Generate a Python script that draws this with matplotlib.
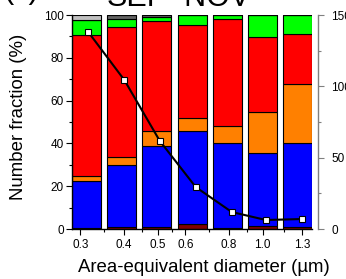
import matplotlib
matplotlib.use("Agg")
import matplotlib.pyplot as plt
import numpy as np

plt.rcParams["font.family"] = ["Liberation Sans", "DejaVu Sans"]

# bin centres of the bars and of the number line (um)
bar_diam = [0.312, 0.393, 0.497, 0.630, 0.792, 1.00, 1.261]
line_diam = [0.316, 0.401, 0.507, 0.643, 0.816, 1.023, 1.30]

# stacked number fractions (%), bottom to top
maroon = [0.5, 1.0, 0.8, 2.3, 0.3, 1.5, 1.0]
blue = [21.9, 28.9, 38.0, 43.3, 39.7, 33.9, 39.0]
orange = [2.5, 3.9, 7.1, 6.4, 8.1, 19.3, 27.6]
red = [65.6, 60.4, 51.1, 43.3, 50.0, 35.2, 23.4]
green = [7.3, 3.9, 2.2, 4.7, 1.9, 10.1, 9.0]
dark_gray = [0.0, 1.9, 0.8, 0.0, 0.0, 0.0, 0.0]
light_gray = [2.2, 0.0, 0.0, 0.0, 0.0, 0.0, 0.0]

# particle counts on the right axis
counts = [138, 104.4, 61.7, 29.4, 11.9, 6.3, 7.0]

tick_vals = [0.3, 0.4, 0.5, 0.6, 0.8, 1.0, 1.3]
tick_labels = ["0.3", "0.4", "0.5", "0.6", "0.8", "1.0", "1.3"]
minor_vals = [0.35, 0.45, 0.55, 0.7, 0.9, 1.15]

layers = [
    (maroon, "#800000"),
    (blue, "#0000ff"),
    (orange, "#ff8000"),
    (red, "#ff0000"),
    (green, "#00ff00"),
    (dark_gray, "#646464"),
    (light_gray, "#c0c0c0"),
]

W, H = 346, 279
fig = plt.figure(figsize=(W / 100, H / 100), dpi=100)
ax = fig.add_axes([72 / W, 1 - 229 / H, 240 / W, 214 / H])

half = 0.0829 / 2  # bar half width in decades
c = np.array(bar_diam)
left = c * 10 ** (-half)
right = c * 10 ** half
bottom = np.zeros(len(c))
for vals, col in layers:
    v = np.array(vals)
    ax.bar(left, v, width=right - left, bottom=bottom, align="edge",
           color=col, edgecolor="black", linewidth=0.8, zorder=2)
    bottom += v

ax.set_xscale("log")
ax.set_xlim(left[0], right[-1])
ax.set_ylim(0, 100)
ax.set_xticks(tick_vals)
ax.set_xticklabels(tick_labels)
ax.set_xticks(minor_vals, minor=True)
ax.xaxis.set_minor_formatter(matplotlib.ticker.NullFormatter())
ax.set_yticks([0, 20, 40, 60, 80, 100])
ax.set_yticks([10, 30, 50, 70, 90], minor=True)
ax.tick_params(which="major", direction="out", length=4, width=0.8, labelsize=8.5, pad=2)
ax.tick_params(axis="x", which="major", pad=3.5)
ax.tick_params(which="minor", direction="out", length=2.5, width=0.8)
ax.spines["top"].set_visible(False)
ax.spines["right"].set_visible(False)
for s in ("left", "bottom"):
    ax.spines[s].set_linewidth(1.0)

ax2 = ax.twinx()
ax2.plot(line_diam, counts, color="black", lw=1.5, marker="s", ms=4.5,
         mfc="white", mec="black", mew=0.8, zorder=3)
ax2.set_ylim(0, 150)
ax2.set_yticks([0, 50, 100, 150])
ax2.set_yticks([25, 75, 125], minor=True)
ax2.spines["right"].set_position(("outward", 4))
ax2.spines["right"].set_color("#808080")
ax2.spines["right"].set_linewidth(1.0)
for s in ("top", "left", "bottom"):
    ax2.spines[s].set_visible(False)
ax2.tick_params(which="major", direction="out", length=4, width=0.8, colors="#808080",
                labelcolor="black", labelsize=8.5, pad=6)
ax2.tick_params(which="minor", direction="out", length=2.5, width=0.8, colors="#808080")

fig.text(204 / W, 1 - 268 / H, "Area-equivalent diameter (\u00b5m)", fontsize=13.4,
         ha="center", va="center")
fig.text(18.5 / W, 1 - 116.5 / H, "Number fraction (%)", fontsize=13.4,
         ha="center", va="center", rotation=90)
fig.text(179 / W, 1 - 6 / H, "SEP\u2013NOV", fontsize=22, ha="center", va="baseline")
fig.text(3 / W, 1 + 2 / H, "(c)", fontsize=22, ha="left", va="baseline")

fig.savefig("out.png", dpi=100)
